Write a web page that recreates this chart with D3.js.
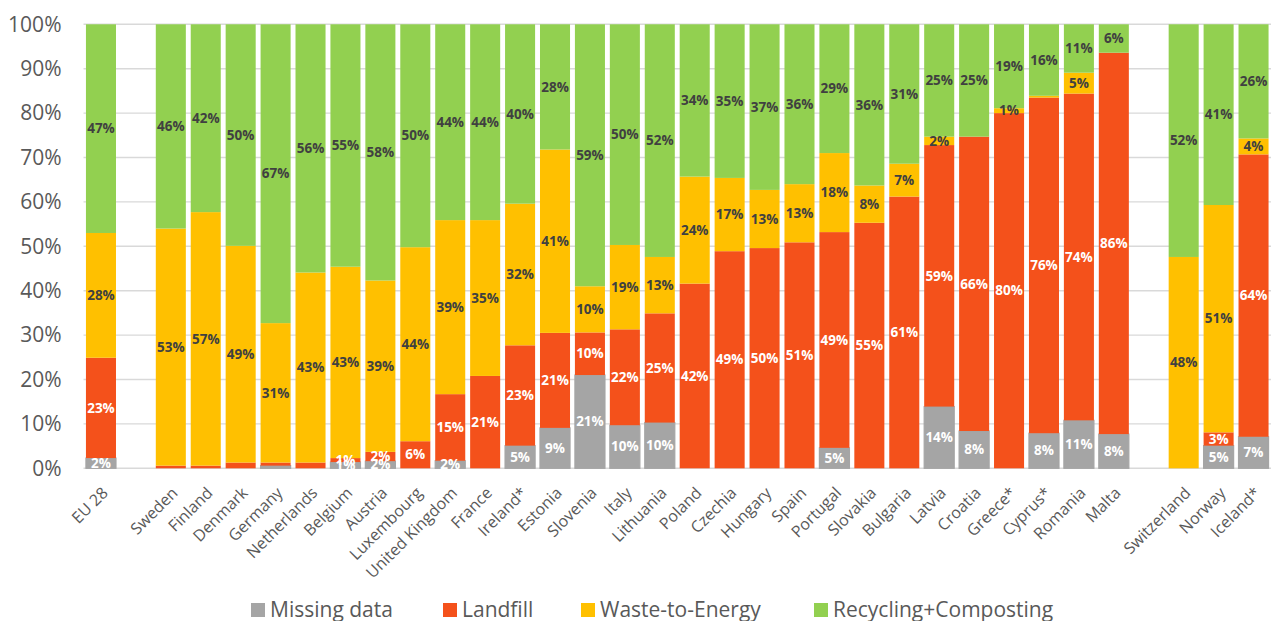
<!DOCTYPE html>
<html>
<head>
<meta charset="utf-8">
<script src="https://cdn.jsdelivr.net/npm/d3@7"></script>
<style>
  body { margin: 0; background: #fff; }
  svg { display: block; font-family: "Open Sans", sans-serif; }
</style>
</head>
<body>
<div id="chart"></div>
<script>
// categories ("" = empty slot between groups)
var categories = ["EU 28", "", "Sweden", "Finland", "Denmark", "Germany", "Netherlands", "Belgium",
  "Austria", "Luxembourg", "United Kingdom", "France", "Ireland*", "Estonia", "Slovenia", "Italy",
  "Lithuania", "Poland", "Czechia", "Hungary", "Spain", "Portugal", "Slovakia", "Bulgaria", "Latvia",
  "Croatia", "Greece*", "Cyprus*", "Romania", "Malta", "", "Switzerland", "Norway", "Iceland*"];

// shares in %
var missing   = [2.3, null, 0, 0, 0, 0.6, 0, 1.4, 1.6, 0, 1.7, 0, 5.1, 9.1, 21.0, 9.7, 10.3, 0, 0, 0, 0, 4.6, 0, 0, 13.9, 8.4, 0, 7.9, 10.8, 7.7, null, 0, 5.1, 7.1];
var landfill  = [22.6, null, 0.6, 0.6, 1.3, 0.7, 1.3, 0.9, 2.1, 6.1, 15.0, 20.8, 22.6, 21.4, 9.6, 21.6, 24.6, 41.6, 48.9, 49.6, 50.9, 48.6, 55.3, 61.2, 58.9, 66.3, 80.0, 75.6, 73.6, 85.9, null, 0, 3.0, 63.6];
var wte       = [28.1, null, 53.4, 57.1, 48.8, 31.4, 42.8, 43.1, 38.6, 43.7, 39.2, 35.1, 31.9, 41.3, 10.4, 19.0, 12.7, 24.1, 16.5, 13.1, 13.1, 17.8, 8.4, 7.4, 1.9, 0, 1.1, 0.4, 4.7, 0, null, 47.6, 51.2, 3.6];
var recycling = [47.0, null, 46.0, 42.3, 49.9, 67.3, 55.9, 54.6, 57.7, 50.2, 44.1, 44.1, 40.4, 28.2, 59.0, 49.7, 52.4, 34.3, 34.6, 37.3, 36.0, 29.0, 36.3, 31.4, 25.3, 25.3, 18.9, 16.1, 10.9, 6.4, null, 52.4, 40.7, 25.7];

var seriesNames = ["Missing data", "Landfill", "Waste-to-Energy", "Recycling+Composting"];
var yTicks = [0, 10, 20, 30, 40, 50, 60, 70, 80, 90, 100];
// labels Excel left out
var hiddenLabels = ["Denmark|landfill", "Netherlands|landfill"];

var keys = ["missing", "landfill", "wte", "recycling"];
var colors = {missing: "#A5A5A5", landfill: "#F4511B", wte: "#FFC000", recycling: "#92D050"};
var labelColors = {missing: "#ffffff", landfill: "#ffffff", wte: "#404040", recycling: "#404040"};

var width = 1271, height = 621;
var margin = {top: 24.3, left: 83.5, right: 0, bottom: 152.7};

var svg = d3.select("#chart")
  .append("svg")
    .attr("width", width)
    .attr("height", height);

// rows for the stack, gaps left out
var rows = [];
categories.forEach(function(c, i){
  if (missing[i] === null) return;
  rows.push({idx: i, name: c, missing: missing[i], landfill: landfill[i], wte: wte[i], recycling: recycling[i]});
});

var x = d3.scaleBand()
  .domain(d3.range(categories.length))
  .range([margin.left, width - margin.right])
  .paddingInner(0.14)
  .paddingOuter(0.07);

var y = d3.scaleLinear()
  .domain([0, 100])
  .range([height - margin.bottom, margin.top]);

// gridlines
svg.append("g")
  .selectAll("line")
  .data(yTicks)
  .enter()
  .append("line")
    .attr("x1", margin.left)
    .attr("x2", width - margin.right)
    .attr("y1", function(d){ return y(d); })
    .attr("y2", function(d){ return y(d); })
    .attr("stroke", "#D9D9D9")
    .attr("stroke-width", 1.4);

// y axis labels
var yAxis = d3.axisLeft(y)
  .tickValues(yTicks)
  .tickFormat(function(d){ return d + "%"; })
  .tickSize(0)
  .tickPadding(22);

svg.append("g")
  .attr("transform", "translate(" + margin.left + ",0)")
  .call(yAxis)
  .call(function(g){ g.select(".domain").remove(); })
  .selectAll("text")
    .attr("font-family", "Open Sans")
    .attr("font-size", "21px")
    .attr("fill", "#595959");

// stacked bars
var stacked = d3.stack().keys(keys)(rows);

var layers = svg.selectAll(".layer")
  .data(stacked)
  .enter()
  .append("g")
    .attr("class", "layer")
    .attr("fill", function(d){ return colors[d.key]; });

layers.selectAll("rect")
  .data(function(d){ return d; })
  .enter()
  .append("rect")
    .attr("x", function(d){ return x(d.data.idx); })
    .attr("width", x.bandwidth())
    .attr("y", function(d){ return y(d[1]); })
    .attr("height", function(d){ return y(d[0]) - y(d[1]); })
    .attr("stroke", function(){ return d3.select(this.parentNode).datum().key == "missing" ? "#A5A5A5" : "none"; })
    .attr("stroke-width", 1.2);

// data labels
stacked.forEach(function(layer){
  svg.append("g")
    .selectAll("text")
    .data(layer.filter(function(d){
      var v = d.data[layer.key];
      return v >= 0.8 && hiddenLabels.indexOf(d.data.name + "|" + layer.key) < 0;
    }))
    .enter()
    .append("text")
      .attr("x", function(d){ return x(d.data.idx) + x.bandwidth() / 2; })
      .attr("y", function(d){ return (y(d[0]) + y(d[1])) / 2; })
      .attr("dy", "0.35em")
      .attr("text-anchor", "middle")
      .attr("font-size", "13.5px")
      .attr("font-weight", "bold")
      .attr("fill", labelColors[layer.key])
      .text(function(d){ return Math.round(d.data[layer.key]) + "%"; });
});

// category labels, rotated
svg.append("g")
  .selectAll("text")
  .data(rows)
  .enter()
  .append("text")
    .attr("transform", function(d){
      return "translate(" + (x(d.idx) + x.bandwidth() / 2 + 4) + "," + 490 + ") rotate(-45)";
    })
    .attr("dy", "0.35em")
    .attr("text-anchor", "end")
    .attr("font-size", "16px")
    .attr("fill", "#595959")
    .text(function(d){ return d.name; });

// legend
var legendX = [251, 443, 581, 814];
var legend = svg.append("g")
  .selectAll("g")
  .data(seriesNames)
  .enter()
  .append("g")
    .attr("transform", function(d, i){ return "translate(" + legendX[i] + ",603)"; });

legend.append("rect")
  .attr("width", 14)
  .attr("height", 14)
  .attr("fill", function(d, i){ return colors[keys[i]]; });

legend.append("text")
  .attr("x", 19)
  .attr("y", 14)
  .attr("font-size", "21px")
  .attr("fill", "#595959")
  .text(function(d){ return d; });
</script>
</body>
</html>
